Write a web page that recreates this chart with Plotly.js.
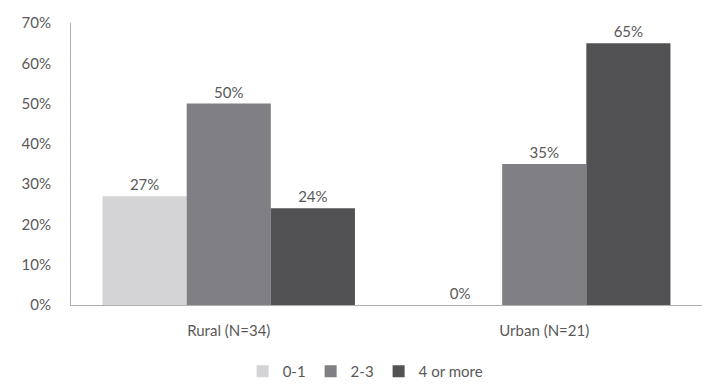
<!DOCTYPE html>
<html>
<head>
<meta charset="utf-8">
<script src="https://cdn.plot.ly/plotly-3.0.1.min.js"></script>
<style>
  html, body { margin: 0; padding: 0; background: #ffffff; }
  #chart { width: 709px; height: 388px; }
</style>
</head>
<body>
<div id="chart"></div>
<script>
// Share of respondents by count group, per area
const categories = ["Rural (N=34)", "Urban (N=21)"];
const groupNames = ["0-1", "2-3", "4 or more"];
const values01 = [27, 0];
const values23 = [50, 35];
const values4plus = [24, 65];
const groupColors = ["#d4d4d6", "#808084", "#525254"];
const yTicks = [0, 10, 20, 30, 40, 50, 60, 70];
const yTickLabels = ["0%", "10%", "20%", "30%", "40%", "50%", "60%", "70%"];

const textColor = "#595959";
const fontFamily = "Lato, 'Open Sans', 'Liberation Sans', sans-serif";

const seriesValues = [values01, values23, values4plus];
const traces = seriesValues.map((vals, i) => ({
  type: "bar",
  name: groupNames[i],
  x: categories,
  y: vals,
  text: vals.map(v => v + "%"),
  textposition: "outside",
  cliponaxis: false,
  textfont: { family: fontFamily, size: 15, color: textColor },
  marker: { color: groupColors[i], line: { width: 0 } },
  hoverinfo: "skip"
}));

const layout = {
  width: 709,
  height: 388,
  margin: { l: 71, r: 7, t: 23, b: 83, autoexpand: false },
  paper_bgcolor: "#ffffff",
  plot_bgcolor: "#ffffff",
  font: { family: fontFamily, size: 15, color: textColor },
  barmode: "group",
  bargap: 0.2,
  bargroupgap: 0,
  showlegend: true,
  legend: {
    orientation: "h",
    x: 0.515,
    xref: "container",
    xanchor: "center",
    y: 0,
    yref: "container",
    yanchor: "bottom",
    font: { family: fontFamily, size: 15, color: textColor },
    itemwidth: 30,
    traceorder: "normal"
  },
  xaxis: {
    showline: true,
    linecolor: "#b0b0b0",
    linewidth: 1,
    ticks: "",
    showgrid: false,
    zeroline: false,
    tickfont: { family: fontFamily, size: 15, color: textColor },
    ticklabelstandoff: 12
  },
  yaxis: {
    range: [0, 70],
    tickvals: yTicks,
    ticktext: yTickLabels,
    showline: true,
    linecolor: "#b0b0b0",
    linewidth: 1,
    ticks: "",
    showgrid: false,
    zeroline: false,
    tickfont: { family: fontFamily, size: 15, color: textColor },
    ticklabelstandoff: 16
  }
};

Plotly.newPlot("chart", traces, layout, { displayModeBar: false, staticPlot: true });
</script>
</body>
</html>
